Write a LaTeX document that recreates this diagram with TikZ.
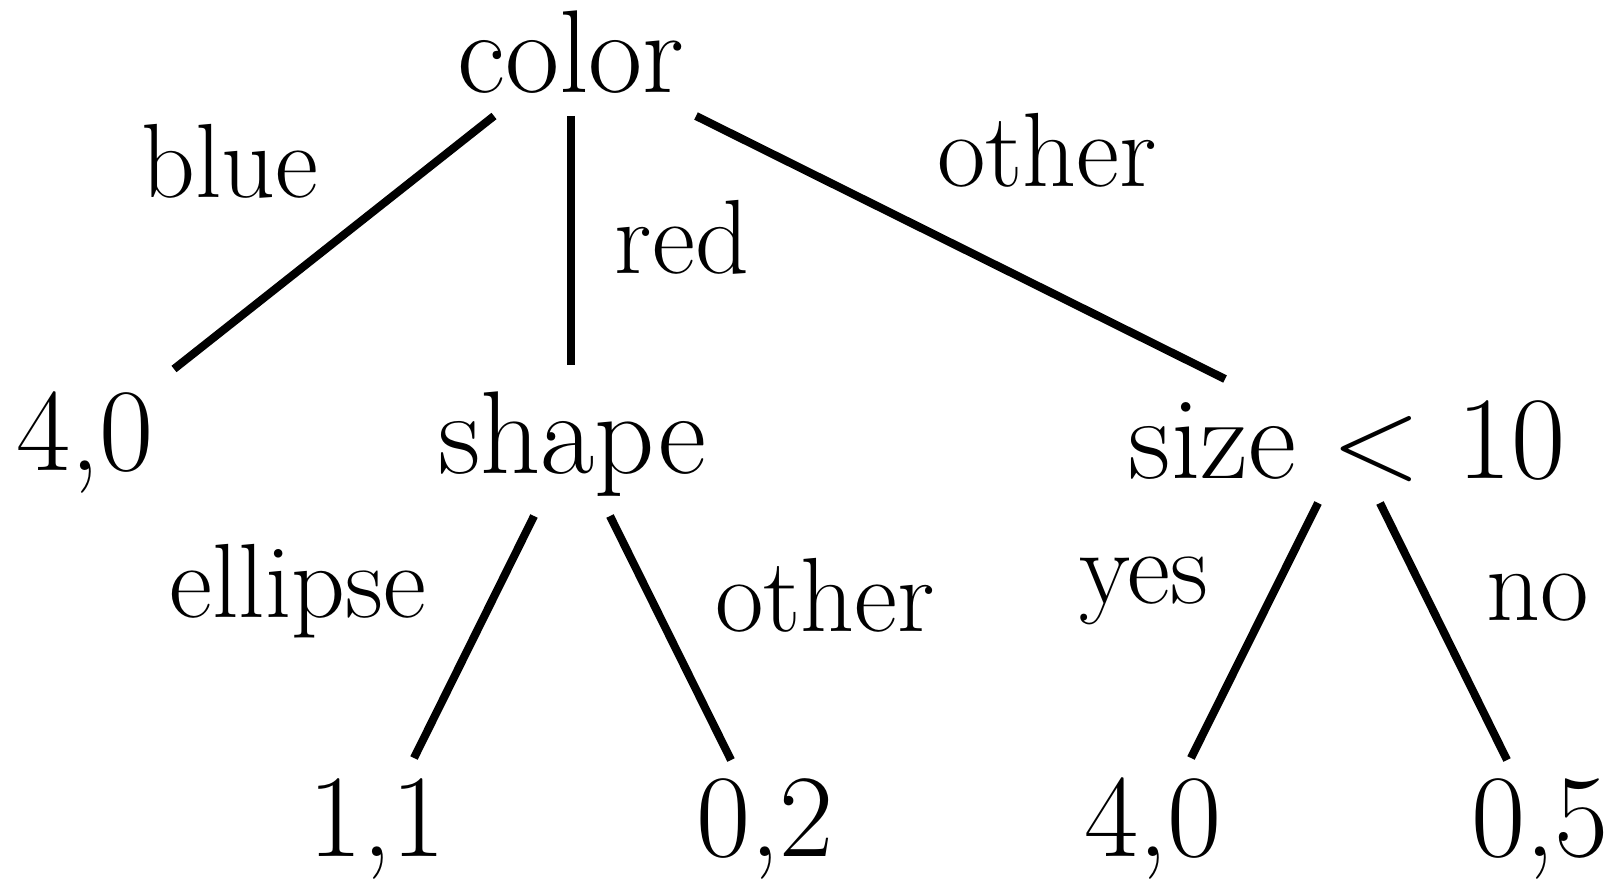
\RequirePackage{fix-cm}
\documentclass[tikz,border=0pt]{standalone}
\usepackage{fontspec}
\begin{document}
\begin{tikzpicture}[x=0.01cm,y=-0.01cm,
  tn/.style={anchor=base,inner sep=0pt,font=\fontsize{33.5}{40}\selectfont},
  lb/.style={anchor=base,inner sep=0pt,font=\fontsize{30}{36}\selectfont},
  edge/.style={line width=2.3pt}]
\useasboundingbox (0,0) rectangle (1621,882);
\node[tn] (color) at (571,93) {color};
\node[tn] (a40) at (85,470) {4,0};
\node[tn] (shape) at (572,473) {shape};
\node[tn] (size) at (1347,478) {size $<$ 10};
\node[tn] (b11) at (377,856) {1,1};
\node[tn] (b02) at (765,856) {0,2};
\node[tn] (b40) at (1153,856) {4,0};
\node[tn] (b05) at (1540,856) {0,5};
\coordinate (c1) at (494,116);
\coordinate (c2) at (571,116);
\coordinate (c3) at (696,116);
\coordinate (e1) at (174,369);
\coordinate (e2) at (571,365);
\coordinate (e3) at (1225,379);
\coordinate (s1) at (534,516);
\coordinate (s2) at (610,516);
\coordinate (f1) at (414,758);
\coordinate (f2) at (731,760);
\coordinate (z1) at (1318,503);
\coordinate (z2) at (1380,503);
\coordinate (g1) at (1191,758);
\coordinate (g2) at (1507,760);
\draw[edge] (c1) -- (e1);
\draw[edge] (c2) -- (e2);
\draw[edge] (c3) -- (e3);
\draw[edge] (s1) -- (f1);
\draw[edge] (s2) -- (f2);
\draw[edge] (z1) -- (g1);
\draw[edge] (z2) -- (g2);
\node[lb] (lblue) at (230,198) {blue};
\node[lb] (lred) at (682,274) {red};
\node[lb] (lother1) at (1047,186) {other};
\node[lb] (lell) at (298,617) {ellipse};
\node[lb] (lother2) at (825,631) {other};
\node[lb] (lyes) at (1144,603) {yes};
\node[lb] (lno) at (1538,620) {no};
\end{tikzpicture}
\end{document}
